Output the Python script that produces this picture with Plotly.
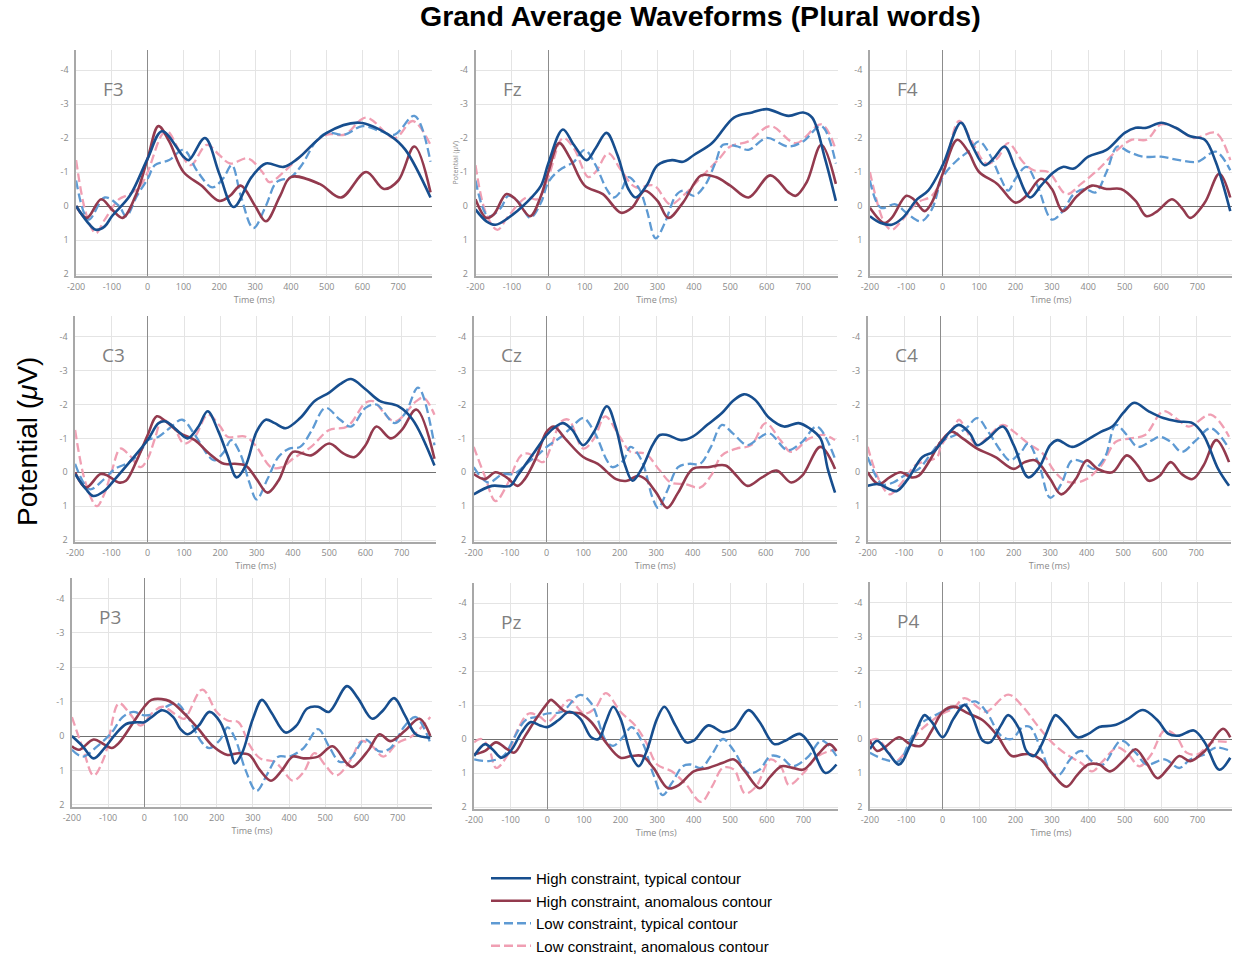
import plotly.graph_objects as go

W, H = 1235, 957

# Grand-average ERP waveforms, (time in ms, potential in µV).
# ht = high constraint / typical contour, ha = high constraint / anomalous contour
# lt = low constraint / typical contour,  la = low constraint / anomalous contour

F3_ht = [(-200, 0.0), (-170, 0.45), (-145, 0.7), (-120, 0.6), (-100, 0.3), (-50, -0.3), (0, -1.4), (40, -2.2),
         (100, -1.45), (115, -1.35), (160, -2.0), (200, -0.95), (240, 0.03), (290, -0.85), (330, -1.25),
         (380, -1.15), (420, -1.4), (500, -2.15), (590, -2.45), (680, -2.05), (720, -1.65), (790, -0.25)]
F3_ha = [(-200, 0.0), (-170, 0.35), (-130, -0.2), (-100, 0.1), (-70, 0.35), (-30, -0.4), (0, -1.4), (30, -2.35),
         (60, -1.9), (100, -1.0), (150, -0.6), (200, -0.15), (230, -0.3), (260, -0.6), (300, 0.0), (330, 0.45),
         (370, -0.3), (400, -0.85), (480, -0.65), (540, -0.25), (610, -1.0), (660, -0.5), (700, -0.75),
         (745, -1.75), (790, -0.4)]
F3_lt = [(-200, -0.75), (-165, 0.4), (-120, -0.25), (-80, 0.0), (-60, 0.3), (-30, -0.3), (0, -0.8), (20, -1.2),
         (60, -1.35), (100, -1.65), (140, -1.0), (180, -0.55), (210, -0.8), (235, -1.2), (260, -0.3), (295, 0.65),
         (330, 0.0), (360, -0.7), (400, -0.85), (430, -1.2), (470, -1.9), (500, -2.15), (550, -2.1), (600, -2.35),
         (650, -2.2), (690, -2.1), (745, -2.65), (790, -1.3)]
F3_la = [(-200, -1.35), (-170, 0.3), (-145, 0.8), (-120, 0.4), (-80, -0.2), (-50, -0.35), (-20, -0.6), (0, -1.0),
         (40, -2.1), (55, -2.2), (90, -1.6), (120, -1.2), (165, -1.8), (200, -1.5), (230, -1.25), (280, -1.4),
         (320, -1.0), (340, -0.7), (380, -1.0), (430, -1.5), (500, -2.1), (550, -2.1), (610, -2.6), (690, -2.0),
         (740, -2.5), (790, -1.8)]

Fz_ht = [(-200, 0.1), (-170, 0.45), (-145, 0.55), (-110, 0.35), (-60, -0.1), (-20, -0.6), (0, -1.25), (40, -2.25),
         (70, -1.8), (105, -1.35), (130, -1.7), (160, -2.15), (190, -1.5), (220, -0.5), (240, -0.25), (270, -0.6),
         (300, -1.2), (340, -1.35), (370, -1.3), (400, -1.5), (450, -1.85), (510, -2.6), (560, -2.75),
         (600, -2.85), (660, -2.65), (700, -2.75), (725, -2.6), (760, -1.4), (790, -0.15)]
Fz_ha = [(-200, -0.2), (-170, 0.35), (-150, 0.25), (-115, -0.35), (-90, -0.2), (-50, 0.3), (-20, -0.3), (0, -1.0),
         (30, -1.85), (60, -1.4), (100, -0.6), (150, -0.35), (200, 0.2), (230, 0.05), (265, -0.45), (300, -0.15),
         (330, 0.35), (370, -0.1), (420, -0.9), (460, -0.85), (500, -0.6), (550, -0.25), (610, -0.9),
         (660, -0.4), (680, -0.3), (710, -0.7), (750, -1.8), (790, -0.65)]
Fz_lt = [(-200, -0.75), (-165, 0.3), (-130, 0.05), (-110, -0.3), (-80, -0.1), (-50, 0.35), (-20, -0.1), (0, -0.7),
         (30, -1.05), (70, -1.3), (100, -1.65), (130, -1.2), (160, -0.5), (180, -0.25), (200, -0.45), (220, -0.85),
         (250, -0.5), (270, 0.1), (295, 0.95), (320, 0.5), (350, -0.3), (370, -0.45), (400, -0.3), (430, -0.6),
         (460, -1.3), (480, -1.8), (520, -1.75), (550, -1.65), (600, -2.0), (660, -1.75), (700, -1.9),
         (750, -2.35), (790, -1.25)]
Fz_la = [(-200, -1.2), (-170, 0.25), (-140, 0.7), (-110, 0.3), (-60, -0.25), (-30, -0.2), (0, -0.85), (40, -2.0),
         (70, -1.7), (110, -0.85), (130, -1.0), (165, -1.55), (200, -1.05), (240, -0.55), (290, -0.6),
         (335, -0.05), (370, -0.3), (420, -0.85), (470, -1.4), (500, -1.75), (550, -1.9), (610, -2.35),
         (680, -1.85), (750, -2.4), (790, -1.65)]

F4_ht = [(-200, 0.3), (-170, 0.5), (-140, 0.55), (-110, 0.35), (-70, -0.2), (-40, -0.45), (0, -1.2), (50, -2.45),
         (80, -1.8), (115, -1.2), (140, -1.4), (170, -1.75), (200, -1.1), (240, -0.25), (270, -0.6), (300, -0.95),
         (330, -1.15), (360, -1.1), (400, -1.45), (450, -1.65), (500, -2.15), (530, -2.3), (560, -2.3),
         (600, -2.45), (640, -2.3), (680, -2.05), (720, -1.95), (750, -1.3), (790, 0.15)]
F4_ha = [(-200, 0.05), (-160, 0.5), (-140, 0.35), (-100, -0.3), (-80, -0.2), (-50, 0.15), (-30, -0.1), (0, -0.95),
         (40, -1.95), (70, -1.6), (100, -1.0), (150, -0.65), (200, -0.1), (230, -0.3), (270, -0.8), (300, -0.5),
         (330, 0.15), (370, -0.3), (410, -0.6), (450, -0.5), (490, -0.5), (530, -0.15), (560, 0.3), (590, 0.15),
         (630, -0.2), (660, 0.1), (680, 0.35), (720, -0.1), (760, -0.95), (790, -0.25)]
F4_lt = [(-200, -0.75), (-170, 0.05), (-130, -0.05), (-100, 0.2), (-60, 0.45), (-30, 0.1), (0, -0.85), (40, -1.35),
         (70, -1.6), (100, -1.9), (130, -1.5), (160, -0.8), (180, -0.45), (200, -0.8), (230, -1.15), (260, -0.6),
         (300, 0.4), (330, 0.15), (360, -0.35), (390, -0.5), (420, -0.4), (450, -1.0), (480, -1.75), (510, -1.6),
         (550, -1.45), (600, -1.45), (650, -1.35), (700, -1.3), (750, -1.6), (790, -1.05)]
F4_la = [(-200, -1.0), (-160, 0.5), (-140, 0.7), (-110, 0.4), (-70, -0.1), (-30, -0.3), (0, -0.9), (45, -2.5),
         (80, -1.9), (120, -1.25), (150, -1.4), (180, -1.85), (220, -1.3), (250, -1.05), (290, -1.0),
         (340, -0.35), (380, -0.65), (430, -1.1), (480, -1.65), (520, -1.95), (560, -1.95), (600, -2.4),
         (640, -2.3), (690, -2.0), (750, -2.15), (790, -1.35)]

C3_ht = [(-200, 0.05), (-170, 0.5), (-150, 0.7), (-120, 0.55), (-90, 0.2), (-50, -0.3), (0, -0.95), (30, -1.45),
         (50, -1.5), (80, -1.25), (110, -1.0), (140, -1.35), (165, -1.8), (195, -1.2), (220, -0.5), (245, 0.15),
         (270, -0.2), (300, -1.2), (325, -1.55), (350, -1.45), (380, -1.3), (420, -1.6), (460, -2.1),
         (500, -2.35), (530, -2.6), (560, -2.75), (600, -2.45), (640, -2.1), (690, -1.95), (730, -1.55),
         (790, -0.2)]
C3_ha = [(-200, 0.0), (-170, 0.45), (-130, 0.05), (-110, 0.1), (-80, 0.3), (-60, 0.25), (-30, -0.35), (0, -1.1),
         (25, -1.65), (50, -1.5), (90, -1.15), (130, -0.95), (170, -0.55), (210, -0.25), (240, -0.25),
         (270, -0.2), (300, 0.2), (330, 0.6), (360, 0.25), (400, -0.6), (450, -0.5), (500, -0.85), (540, -0.55),
         (570, -0.45), (600, -0.8), (630, -1.35), (670, -1.0), (700, -1.25), (740, -1.85), (790, -0.4)]
C3_lt = [(-200, -0.25), (-160, 0.5), (-120, 0.2), (-90, -0.1), (-50, -0.3), (-20, -0.6), (0, -0.95), (30, -1.05),
         (60, -1.3), (95, -1.55), (130, -1.1), (170, -0.45), (185, -0.35), (210, -0.6), (230, -0.95), (255, -0.55),
         (280, 0.3), (300, 0.8), (330, 0.2), (360, -0.45), (390, -0.7), (420, -0.75), (450, -1.2), (490, -1.9),
         (530, -1.55), (560, -1.35), (600, -1.9), (630, -2.0), (680, -1.45), (710, -1.75), (745, -2.5),
         (790, -0.8)]
C3_la = [(-200, -1.25), (-170, 0.35), (-140, 1.0), (-120, 0.65), (-100, 0.0), (-75, -0.7), (-50, -0.5),
         (-20, -0.15), (0, -0.4), (20, -1.0), (40, -1.55), (70, -1.35), (100, -0.85), (130, -1.05), (165, -1.7),
         (200, -1.35), (220, -1.05), (270, -1.05), (300, -0.75), (340, -0.15), (370, -0.15), (400, -0.4),
         (450, -0.75), (500, -1.25), (550, -1.35), (600, -2.05), (620, -2.1), (680, -1.5), (740, -2.1),
         (760, -2.2), (790, -1.7)]

Cz_ht = [(-200, 0.65), (-150, 0.4), (-100, 0.4), (-80, 0.1), (-40, -0.5), (0, -1.1), (25, -1.35), (45, -1.45),
         (70, -1.25), (100, -0.8), (130, -1.2), (165, -1.95), (190, -1.3), (215, -0.2), (235, 0.25), (260, -0.1),
         (290, -0.8), (310, -1.1), (330, -1.1), (370, -0.95), (400, -1.05), (440, -1.4), (480, -1.75),
         (510, -2.1), (540, -2.3), (570, -2.15), (610, -1.6), (650, -1.35), (690, -1.45), (720, -1.3),
         (750, -1.0), (770, -0.1), (790, 0.6)]
Cz_ha = [(-200, 0.05), (-170, 0.2), (-140, 0.0), (-110, 0.15), (-80, 0.4), (-60, 0.2), (-30, -0.4), (0, -1.2),
         (20, -1.35), (50, -1.0), (100, -0.45), (140, -0.25), (190, 0.2), (220, 0.25), (250, 0.1), (270, 0.2),
         (300, 0.6), (330, 1.05), (360, 0.6), (400, -0.1), (440, -0.15), (490, -0.2), (520, 0.1), (550, 0.4),
         (590, 0.15), (630, -0.05), (670, 0.3), (700, 0.1), (750, -0.75), (790, -0.1)]
Cz_lt = [(-200, -0.15), (-160, 0.3), (-120, 0.05), (-90, 0.05), (-50, -0.3), (-20, -0.55), (0, -0.75), (40, -1.05),
         (70, -1.35), (100, -1.6), (130, -1.2), (165, -0.35), (180, -0.15), (210, -0.35), (230, -0.75),
         (260, -0.35), (290, 0.75), (305, 1.05), (330, 0.55), (360, -0.15), (390, -0.25), (420, -0.25),
         (450, -0.75), (480, -1.4), (510, -1.15), (550, -0.8), (580, -1.0), (610, -1.15), (660, -0.65),
         (700, -0.9), (740, -1.35), (790, -0.4)]
Cz_la = [(-200, -0.75), (-170, 0.1), (-140, 0.85), (-110, 0.4), (-70, -0.5), (-50, -0.55), (-10, -0.3), (10, -0.7),
         (40, -1.5), (60, -1.55), (100, -0.7), (130, -1.0), (160, -1.65), (200, -1.05), (230, -0.6), (270, -0.55),
         (310, -0.05), (340, 0.3), (380, 0.35), (420, 0.45), (450, 0.1), (480, -0.5), (520, -0.7), (560, -0.8),
         (600, -1.45), (640, -0.95), (670, -0.6), (720, -1.0), (760, -1.1), (790, -0.95)]

C4_ht = [(-200, 0.4), (-170, 0.35), (-140, 0.5), (-120, 0.55), (-90, 0.2), (-50, -0.45), (-20, -0.6), (0, -0.85),
         (30, -1.25), (50, -1.4), (80, -1.15), (100, -0.8), (130, -1.0), (170, -1.35), (200, -0.8), (240, 0.15),
         (270, -0.15), (300, -0.8), (320, -0.95), (360, -0.75), (400, -0.95), (440, -1.2), (470, -1.35),
         (500, -1.75), (530, -2.05), (570, -1.8), (610, -1.6), (650, -1.5), (690, -1.45), (720, -1.1),
         (760, -0.1), (790, 0.4)]
C4_ha = [(-200, 0.0), (-170, 0.35), (-140, 0.15), (-110, 0.0), (-80, 0.15), (-60, 0.1), (-30, -0.35), (0, -0.9),
         (30, -1.2), (60, -1.0), (100, -0.7), (150, -0.45), (200, -0.1), (230, -0.3), (260, -0.35), (300, 0.2),
         (330, 0.65), (370, 0.2), (400, -0.35), (430, -0.1), (470, 0.0), (510, -0.5), (540, -0.2), (570, 0.25),
         (600, 0.1), (630, -0.3), (660, 0.05), (690, 0.2), (720, -0.2), (755, -0.95), (790, -0.3)]
C4_lt = [(-200, -0.45), (-160, 0.35), (-130, 0.3), (-100, 0.1), (-60, -0.1), (-30, -0.5), (0, -0.9), (40, -1.1),
         (70, -1.3), (100, -1.6), (130, -1.2), (170, -0.55), (190, -0.35), (220, -0.6), (240, -0.85),
         (270, -0.2), (300, 0.75), (330, 0.35), (360, -0.35), (390, -0.3), (420, -0.1), (450, -0.45),
         (480, -1.4), (510, -1.1), (540, -0.75), (580, -0.95), (600, -1.05), (630, -0.9), (660, -0.6),
         (700, -0.95), (740, -1.3), (790, -0.7)]
C4_la = [(-200, -0.75), (-170, 0.2), (-140, 0.65), (-110, 0.35), (-70, -0.2), (-50, -0.3), (-10, -0.45), (0, -0.75),
         (40, -1.4), (50, -1.55), (100, -0.8), (130, -1.05), (170, -1.4), (200, -1.2), (240, -0.85), (280, -0.55),
         (310, -0.05), (340, 0.25), (370, 0.3), (400, 0.2), (440, -0.2), (480, -0.9), (520, -1.0), (560, -1.1),
         (610, -1.8), (650, -1.55), (680, -1.35), (740, -1.7), (790, -1.05)]

P3_ht = [(-200, 0.0), (-170, 0.3), (-140, 0.65), (-110, 0.35), (-80, -0.05), (-50, -0.35), (-20, -0.4), (0, -0.4),
         (20, -0.55), (50, -0.75), (80, -0.55), (100, -0.2), (120, -0.05), (150, -0.3), (180, -0.7), (210, -0.4),
         (240, 0.5), (250, 0.8), (270, 0.5), (300, -0.5), (325, -1.05), (350, -0.7), (390, -0.1), (420, -0.3),
         (450, -0.8), (480, -0.85), (510, -0.7), (560, -1.45), (590, -1.1), (630, -0.5), (660, -0.75),
         (690, -1.1), (720, -0.6), (750, -0.05), (790, 0.05)]
P3_ha = [(-200, 0.3), (-180, 0.4), (-140, 0.1), (-110, 0.25), (-90, 0.35), (-70, 0.2), (-30, -0.4), (0, -0.85),
         (20, -1.05), (60, -1.05), (80, -0.95), (120, -0.55), (150, -0.2), (190, 0.3), (230, 0.55), (260, 0.5),
         (290, 0.55), (320, 1.0), (350, 1.3), (380, 1.0), (410, 0.6), (440, 0.65), (480, 0.6), (520, 0.3),
         (560, 0.8), (575, 0.9), (620, 0.4), (650, -0.05), (680, 0.15), (720, -0.15), (760, -0.5), (790, 0.0)]
P3_lt = [(-200, 0.4), (-170, 0.6), (-130, 0.3), (-90, -0.1), (-60, -0.55), (-30, -0.7), (0, -0.6), (30, -0.65),
         (60, -0.85), (90, -0.95), (120, -0.55), (160, 0.2), (180, 0.35), (210, 0.1), (230, -0.25), (250, 0.05),
         (280, 1.0), (310, 1.6), (340, 1.1), (370, 0.6), (400, 0.6), (440, 0.35), (480, -0.2), (510, 0.3),
         (540, 0.75), (570, 0.65), (610, 0.1), (650, 0.45), (680, 0.35), (720, -0.3), (750, -0.55), (790, 0.2)]
P3_la = [(-200, -0.55), (-170, 0.35), (-140, 1.15), (-110, 0.6), (-70, -0.95), (-40, -0.65), (-10, -0.3),
         (20, -0.65), (50, -0.85), (90, -0.6), (110, -0.5), (160, -1.35), (200, -0.7), (230, -0.45), (260, -0.4),
         (290, 0.25), (320, 0.65), (360, 0.75), (380, 0.95), (410, 1.3), (440, 1.05), (470, 0.5), (500, 0.85),
         (530, 1.15), (570, 0.7), (600, 0.15), (630, 0.3), (660, 0.6), (700, 0.2), (740, 0.0), (790, -0.55)]

Pz_ht = [(-200, 0.5), (-170, 0.15), (-150, 0.3), (-125, 0.55), (-100, 0.35), (-70, -0.2), (-45, -0.5), (-20, -0.4),
         (0, -0.35), (30, -0.55), (60, -0.8), (90, -0.6), (120, -0.05), (140, 0.0), (160, -0.5), (180, -0.95),
         (200, -0.6), (230, 0.5), (250, 0.8), (270, 0.4), (300, -0.6), (320, -0.95), (350, -0.4), (380, 0.1),
         (400, 0.05), (440, -0.4), (480, -0.2), (510, -0.3), (550, -0.85), (580, -0.5), (620, 0.15), (650, 0.05),
         (690, -0.15), (720, 0.2), (760, 1.0), (790, 0.75)]
Pz_ha = [(-200, 0.45), (-170, 0.35), (-140, 0.1), (-110, 0.3), (-90, 0.4), (-60, -0.1), (-30, -0.6), (0, -1.05),
         (10, -1.15), (50, -0.8), (90, -0.75), (120, -0.5), (160, 0.1), (200, 0.55), (230, 0.5), (260, 0.5),
         (290, 0.85), (330, 1.45), (360, 1.35), (400, 0.95), (440, 0.85), (480, 0.7), (510, 0.6), (540, 0.95),
         (580, 1.45), (610, 1.1), (640, 0.8), (670, 0.85), (700, 0.9), (740, 0.45), (770, 0.15), (790, 0.35)]
Pz_lt = [(-200, 0.6), (-160, 0.65), (-120, 0.5), (-90, -0.05), (-60, -0.55), (-30, -0.65), (0, -0.75), (40, -0.8),
         (90, -1.3), (120, -1.05), (160, 0.05), (180, 0.2), (210, -0.1), (230, -0.35), (260, 0.1), (290, 1.05),
         (315, 1.65), (340, 1.3), (370, 0.8), (390, 0.75), (420, 0.85), (450, 0.45), (480, 0.0), (510, 0.35),
         (550, 1.0), (580, 0.9), (610, 0.5), (640, 0.55), (670, 0.8), (710, 0.55), (750, 0.05), (790, 0.5)]
Pz_la = [(-200, 0.1), (-180, 0.0), (-160, 0.25), (-140, 0.85), (-110, 0.5), (-80, -0.3), (-50, -0.75), (-20, -0.65),
         (0, -0.5), (30, -0.8), (60, -1.15), (100, -0.75), (130, -0.9), (160, -1.35), (200, -0.8), (240, -0.4),
         (270, 0.1), (300, 0.75), (340, 0.95), (380, 1.35), (420, 1.85), (450, 1.4), (480, 0.85), (510, 0.9),
         (540, 1.6), (570, 1.4), (610, 0.6), (640, 0.85), (660, 1.35), (700, 1.0), (740, 0.5), (790, 0.3)]

P4_ht = [(-200, 0.3), (-180, 0.05), (-150, 0.4), (-120, 0.75), (-90, 0.2), (-60, -0.55), (-50, -0.7), (-30, -0.5),
         (0, -0.05), (30, -0.6), (60, -1.0), (80, -0.7), (110, 0.05), (130, 0.1), (160, -0.4), (180, -0.7),
         (210, -0.3), (230, 0.35), (250, 0.5), (270, 0.2), (300, -0.55), (310, -0.7), (340, -0.4), (370, -0.05),
         (400, -0.15), (430, -0.35), (470, -0.4), (510, -0.6), (550, -0.85), (590, -0.55), (620, -0.15),
         (650, -0.1), (690, -0.25), (720, 0.1), (760, 0.9), (790, 0.55)]
P4_ha = [(-200, 0.05), (-180, 0.35), (-160, 0.25), (-120, -0.05), (-90, 0.15), (-60, 0.2), (-30, -0.25), (0, -0.8),
         (30, -0.95), (70, -0.75), (110, -0.55), (150, -0.1), (190, 0.5), (220, 0.45), (240, 0.45), (270, 0.6),
         (300, 1.0), (340, 1.4), (370, 1.05), (400, 0.75), (430, 0.75), (460, 0.95), (500, 0.6), (530, 0.3),
         (560, 0.7), (590, 1.15), (620, 0.85), (650, 0.5), (680, 0.65), (720, 0.35), (770, -0.3), (790, -0.05)]
P4_lt = [(-200, 0.4), (-160, 0.6), (-120, 0.65), (-90, 0.05), (-60, -0.45), (-20, -0.7), (20, -0.9), (60, -1.0),
         (90, -1.1), (120, -0.8), (160, -0.1), (190, 0.0), (220, -0.35), (240, -0.35), (270, 0.3), (300, 1.0),
         (320, 1.05), (350, 0.6), (380, 0.35), (410, 0.65), (440, 0.75), (490, 0.05), (530, 0.4), (560, 0.75),
         (610, 0.6), (650, 0.85), (680, 0.6), (720, 0.45), (750, 0.25), (790, 0.35)]
P4_la = [(-200, 0.05), (-180, 0.0), (-150, 0.35), (-130, 0.65), (-100, 0.35), (-70, -0.15), (-40, -0.45), (0, -0.75),
         (30, -0.9), (60, -1.2), (100, -0.9), (120, -0.8), (180, -1.3), (220, -0.95), (260, -0.4), (300, 0.1),
         (340, 0.45), (380, 0.7), (410, 0.95), (440, 0.65), (480, 0.25), (510, 0.45), (540, 0.8), (570, 0.5),
         (610, -0.25), (640, -0.1), (670, 0.4), (700, 0.45), (740, 0.1), (790, 0.1)]

CONDITIONS = ["High constraint, typical contour", "High constraint, anomalous contour",
              "Low constraint, typical contour", "Low constraint, anomalous contour"]
X_TICKS = [-200, -100, 0, 100, 200, 300, 400, 500, 600, 700]
Y_TICKS = [-4, -3, -2, -1, 0, 1, 2]

# line styles per condition
COLORS = ["#174e8e", "#933a4e", "#5e9ad3", "#f09fb3"]
DASHES = ["solid", "solid", "9px,4px", "9px,4px"]
WIDTHS = [2.6, 2.6, 2.3, 2.3]
DRAW_ORDER = [3, 2, 1, 0]  # dashed curves underneath the solid ones

X_RANGE = [-200, 795]
Y_RANGE = [2.05, -4.6]  # negative up

# electrode, series, pixel placement (x of t=0, px per 100 ms, y of 0 µV, px per µV)
PANELS = [
    ("F3", [F3_ht, F3_ha, F3_lt, F3_la], (147.7, 35.8, 206.0, 34.0)),
    ("Fz", [Fz_ht, Fz_ha, Fz_lt, Fz_la], (548.3, 36.4, 206.0, 34.0)),
    ("F4", [F4_ht, F4_ha, F4_lt, F4_la], (942.7, 36.4, 206.0, 34.0)),
    ("C3", [C3_ht, C3_ha, C3_lt, C3_la], (147.7, 36.3, 472.3, 33.9)),
    ("Cz", [Cz_ht, Cz_ha, Cz_lt, Cz_la], (546.7, 36.5, 472.3, 33.9)),
    ("C4", [C4_ht, C4_ha, C4_lt, C4_la], (940.7, 36.5, 472.3, 33.9)),
    ("P3", [P3_ht, P3_ha, P3_lt, P3_la], (144.3, 36.2, 736.0, 34.4)),
    ("Pz", [Pz_ht, Pz_ha, Pz_lt, Pz_la], (547.3, 36.6, 739.0, 34.0)),
    ("P4", [P4_ht, P4_ha, P4_lt, P4_la], (942.7, 36.4, 739.0, 34.1)),
]

GRID = "#e4e4e4"
AXIS = "#a8a8a8"
SMALL = "Open Sans, DejaVu Sans, sans-serif"
TICKFONT = dict(family=SMALL, size=9, color="#8a8a8a")

fig = go.Figure()
layout = dict(
    width=W, height=H, autosize=False,
    margin=dict(l=0, r=0, t=0, b=0, autoexpand=False),
    paper_bgcolor="white", plot_bgcolor="white",
    showlegend=True,
    hovermode=False,
)
annotations = []

for i, (name, series, (x0, s, y0, u)) in enumerate(PANELS):
    k = "" if i == 0 else str(i + 1)
    left = x0 + X_RANGE[0] / 100 * s
    right = x0 + X_RANGE[1] / 100 * s
    top = y0 + Y_RANGE[1] * u
    bottom = y0 + Y_RANGE[0] * u
    layout["xaxis" + k] = dict(
        domain=[left / W, right / W], range=X_RANGE, anchor="y" + k,
        tickvals=X_TICKS, ticktext=[str(t) for t in X_TICKS], tickfont=TICKFONT,
        ticklabelstandoff=2,
        showgrid=True, gridcolor=GRID, gridwidth=1,
        zeroline=True, zerolinecolor="#8c8c8c", zerolinewidth=1.4,
        showline=True, linecolor=AXIS, linewidth=1.5, ticks="",
        title=dict(text="Time (ms)", font=dict(family=SMALL, size=9, color="#8a8a8a"), standoff=0),
    )
    layout["yaxis" + k] = dict(
        domain=[1 - bottom / H, 1 - top / H], range=Y_RANGE, anchor="x" + k,
        tickvals=Y_TICKS, ticktext=[str(t) for t in Y_TICKS], tickfont=TICKFONT,
        ticklabelstandoff=4,
        showgrid=True, gridcolor=GRID, gridwidth=1,
        zeroline=True, zerolinecolor="#707070", zerolinewidth=1.3,
        showline=True, linecolor=AXIS, linewidth=1.5, ticks="",
    )
    if name == "Fz":
        layout["yaxis" + k]["title"] = dict(
            text="Potential (μV)", standoff=0,
            font=dict(family=SMALL, size=7, color="#8a8a8a"))

    for c in DRAW_ORDER:
        pts = series[c]
        fig.add_trace(go.Scatter(
            x=[p[0] for p in pts], y=[p[1] for p in pts],
            mode="lines", xaxis="x" + k, yaxis="y" + k,
            line=dict(color=COLORS[c], width=WIDTHS[c], dash=DASHES[c], shape="spline", smoothing=1.0),
            name=CONDITIONS[c], legendgroup=CONDITIONS[c], legendrank=c + 1,
            showlegend=(i == 0),
        ))

    annotations.append(dict(
        text=name, xref="x" + k, yref="y" + k, x=-131, y=-3.45,
        xanchor="left", yanchor="middle", showarrow=False,
        font=dict(family=SMALL, size=19, color="#7f7f7f"),
    ))

annotations.append(dict(
    text="<b>Grand Average Waveforms (Plural words)</b>", xref="paper", yref="paper",
    x=700 / W, y=1 - 16 / H, xanchor="center", yanchor="middle", showarrow=False,
    font=dict(family="Liberation Sans, Arial, sans-serif", size=28.5, color="black"),
))
annotations.append(dict(
    text="Potential (<i>μ</i>V)", xref="paper", yref="paper",
    x=27 / W, y=1 - 442 / H, xanchor="center", yanchor="middle", showarrow=False, textangle=-90,
    font=dict(family="Liberation Sans, Arial, sans-serif", size=28, color="black"),
))

layout["annotations"] = annotations
layout["legend"] = dict(
    x=486 / W, y=1 - 862 / H, xanchor="left", yanchor="top",
    font=dict(family="Liberation Sans, Arial, sans-serif", size=15, color="black"),
    bgcolor="rgba(0,0,0,0)", borderwidth=0, tracegroupgap=0, itemwidth=40,
    traceorder="normal",
)
fig.update_layout(**layout)

fig.write_html("out.html")
